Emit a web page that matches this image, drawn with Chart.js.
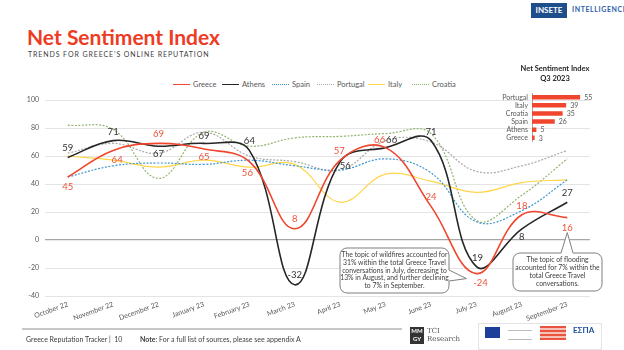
<!DOCTYPE html>
<html>
<head>
<meta charset="utf-8">
<script src="https://cdn.jsdelivr.net/npm/chart.js@4.4.0/dist/chart.umd.min.js"></script>
<style>
    body { margin: 0; width: 624px; height: 350px; position: relative; overflow: hidden; background: #fff; font-family: Lato, "Open Sans", sans-serif; }
    .abs { position: absolute; }
    #title { left: 27px; top: 24px; font-size: 21px; font-weight: 700; color: #ee3b24; }
    #subtitle { left: 28px; top: 50px; font-size: 7px; letter-spacing: 0.9px; color: #404040; }
    .lg { position: absolute; top: 80px; font-size: 7.5px; color: #595959; display: flex; align-items: center; }
    .lg i { display: inline-block; width: 17px; height: 0; margin-right: 3px; }
    #q3title { left: 505px; top: 64px; width: 100px; text-align: center; font-size: 7.5px; font-weight: 700; color: #262626; line-height: 10px; }
    #logo1 { left: 531px; top: 3px; width: 36px; height: 15px; background: #1f4e8c; color: #fff; font-size: 8px; font-weight: 700; line-height: 15px; text-align: center; }
    #logo2 { left: 572px; top: 5px; font-size: 7px; font-weight: 700; color: #2e5ea8; letter-spacing: 0.6px; }
    #footline { left: 22px; top: 328px; width: 380px; height: 2px; background: #c8c8c8; }
    #foot1 { left: 26px; top: 335px; font-size: 7px; color: #404040; }
    #foot2 { left: 140px; top: 335px; font-size: 7px; color: #404040; }
</style>
</head>
<body>
<div id="logo1" class="abs">INSETE</div>
<div id="logo2" class="abs">INTELLIGENCE</div>
<div id="title" class="abs">Net Sentiment Index</div>
<div id="subtitle" class="abs">TRENDS FOR GREECE’S ONLINE REPUTATION</div>
<div id="legend"></div>
<canvas id="lineChart" class="abs" width="624" height="350" style="left:0;top:0"></canvas>
<div id="q3title" class="abs">Net Sentiment Index<br>Q3 2023</div>
<canvas id="barChart" class="abs" width="150" height="65" style="left:470px;top:85px"></canvas>
<div id="footline" class="abs"></div>
<div id="foot1" class="abs">Greece Reputation Tracker |&nbsp; 10</div>
<div id="foot2" class="abs"><b>Note</b>: For a full list of sources, please see appendix A</div>
<!-- partner logos, rough -->
<div class="abs" style="left:410px;top:327px;width:14px;height:17px;background:#333;color:#fff;font-size:6px;font-weight:700;line-height:8px;text-align:center">MM<br>GY</div>
<div class="abs" style="left:427px;top:327px;font-family:'DejaVu Serif',serif;font-size:7px;line-height:8px;color:#555">TCI<br>Research</div>
<div class="abs" style="left:478px;top:323px;width:122px;height:25px;border:1px solid #e4e4e4"></div>
<div class="abs" style="left:485px;top:327px;width:15px;height:11px;background:#1e3f99"></div>
<div class="abs" style="left:508px;top:330px;width:24px;height:8px;border-top:1px solid #bbb;border-bottom:1px solid #bbb"></div>
<div class="abs" style="left:540px;top:326px;width:26px;height:14px;background:repeating-linear-gradient(#e8543f 0 2px,#f5c0b5 2px 4px)"></div>
<div class="abs" style="left:573px;top:325px;font-size:8px;font-weight:700;color:#1e4e9c">ΕΣΠΑ</div>

<script>
// ---- data ----
const months = ['October 22', 'November 22', 'December 22', 'January 23', 'February 23', 'March 23',
    'April 23', 'May 23', 'June 23', 'July 23', 'August 23', 'September 23'];
const greece   = [45, 64, 69, 65, 56, 8, 57, 66, 24, -24, 18, 16];
const athens   = [59, 71, 67, 69, 64, -32, 56, 66, 71, -19, 8, 27];
const athensTags = ['59', '71', '67', '69', '64', '-32', '56', '66', '71', '19', '8', '27'];
const spain    = [45, 53, 55, 54, 57, 53, 50, 58, 48, 13, 21, 43];
const portugal = [62, 69, 62, 77, 60, 56, 50, 71, 70, 49, 53, 64];
const italy    = [60, 57, 52, 57, 52, 54, 27, 47, 42, 34, 41, 43];
const croatia  = [82, 79, 44, 77, 67, 73, 74, 76, 76, 14, 32, 58];

const q3Labels = ['Portugal', 'Italy', 'Croatia', 'Spain', 'Athens', 'Greece'];
const q3Values = [55, 39, 35, 26, 5, 3];

const yTicks = [-40, -20, 0, 20, 40, 60, 80, 100];

const RED = '#f0462d';
const series = [
    { name: 'Greece',   data: greece,   color: RED,       dash: [],     width: 1.6 },
    { name: 'Athens',   data: athens,   color: '#262626', dash: [],     width: 1.6 },
    { name: 'Spain',    data: spain,    color: '#3f97cf', dash: [2, 1.5], width: 1.2 },
    { name: 'Portugal', data: portugal, color: '#a9a9a9', dash: [2, 1.5], width: 1.2 },
    { name: 'Italy',    data: italy,    color: '#ffd54a', dash: [],     width: 1.2 },
    { name: 'Croatia',  data: croatia,  color: '#92b46f', dash: [2, 1.5], width: 1.2 },
];

// legend (html)
const legendLeft = [173, 222, 272, 317, 368, 412];
document.getElementById('legend').innerHTML = series.map((s, i) => {
    const style = s.dash.length ? 'dotted' : 'solid';
    return `<div class="lg" style="left:${legendLeft[i]}px"><i style="border-top:1.5px ${style} ${s.color}"></i>${s.name}</div>`;
}).join('');

// label offsets relative to each point (dx, dy)
const greeceOffsets = [[0, 10], [4, 10], [0, -9], [0, 8], [-2, 11], [0, -10], [-1, -9], [-6, -8], [0, -9], [4, 9], [0, -9], [0, 10]];
const athensOffsets = [[0, -9], [0, -9], [0, 8], [0, -7], [0, -9], [0, -10], [5, 4], [6, -8], [0, -9], [1, -9], [0, 8], [0, -9]];

const pointLabels = {
    id: 'pointLabels',
    afterDatasetsDraw(chart) {
        const ctx = chart.ctx;
        ctx.save();
        ctx.font = '9.5px Lato';
        ctx.textAlign = 'center';
        ctx.textBaseline = 'middle';
        const sets = [
            { idx: 0, tags: greece.map(String), off: greeceOffsets, color: '#f0533a' },
            { idx: 1, tags: athensTags, off: athensOffsets, color: '#333' },
        ];
        sets.forEach(s => {
            chart.getDatasetMeta(s.idx).data.forEach((pt, i) => {
                ctx.fillStyle = s.color;
                ctx.fillText(s.tags[i], pt.x + s.off[i][0], pt.y + s.off[i][1]);
            });
        });
        ctx.restore();
    }
};

function callout(ctx, box, tip, base, lines) {
    const { x, y, w, h } = box, r = 7;
    ctx.beginPath();
    ctx.moveTo(x + r, y);
    if (base.side === 'top') {
        ctx.lineTo(base.a, y); ctx.lineTo(tip.x, tip.y); ctx.lineTo(base.b, y);
    }
    ctx.lineTo(x + w - r, y);
    ctx.arcTo(x + w, y, x + w, y + r, r);
    if (base.side === 'right') {
        ctx.lineTo(x + w, base.a); ctx.lineTo(tip.x, tip.y); ctx.lineTo(x + w, base.b);
    }
    ctx.lineTo(x + w, y + h - r);
    ctx.arcTo(x + w, y + h, x + w - r, y + h, r);
    ctx.lineTo(x + r, y + h);
    ctx.arcTo(x, y + h, x, y + h - r, r);
    ctx.lineTo(x, y + r);
    ctx.arcTo(x, y, x + r, y, r);
    ctx.closePath();
    ctx.fillStyle = '#fff';
    ctx.fill();
    ctx.strokeStyle = '#7f7f7f';
    ctx.lineWidth = 1;
    ctx.stroke();
    ctx.fillStyle = '#404040';
    ctx.font = '6.8px Lato';
    ctx.textAlign = 'center';
    ctx.textBaseline = 'middle';
    const lh = 7.8;
    const y0 = y + h / 2 - (lines.length - 1) * lh / 2;
    lines.forEach((t, i) => ctx.fillText(t, x + w / 2, y0 + i * lh));
}

const callouts = {
    id: 'callouts',
    afterDraw(chart) {
        const ctx = chart.ctx;
        const g = chart.getDatasetMeta(0).data;
        ctx.save();
        const jul = g[9];
        callout(ctx, { x: 340, y: 248, w: 109, h: 45 }, { x: jul.x - 10, y: jul.y + 5 }, { side: 'right', a: 270, b: 281 },
            ['The topic of wildfires accounted for', '31% within the total Greece Travel',
             'conversations in July, decreasing to', '13% in August, and further declining', 'to 7% in September.']);
        const sep = g[11];
        callout(ctx, { x: 513, y: 253, w: 89, h: 38 }, { x: sep.x, y: sep.y + 15 }, { side: 'top', a: 561, b: 573 },
            ['The topic of flooding', 'accounted for 7% within the', 'total Greece Travel', 'conversations.']);
        ctx.restore();
    }
};

new Chart(document.getElementById('lineChart'), {
    type: 'line',
    data: {
        labels: months,
        datasets: series.map(s => ({
            label: s.name,
            data: s.data,
            borderColor: s.color,
            borderDash: s.dash,
            borderWidth: s.width,
            pointRadius: 0,
            tension: 0.4,
            fill: false,
        }))
    },
    options: {
        responsive: false,
        animation: false,
        devicePixelRatio: 1,
        layout: { padding: { left: 0, right: 34, top: 100, bottom: 0 } },
        plugins: { legend: { display: false }, tooltip: { enabled: false } },
        scales: {
            x: {
                offset: true,
                grid: { display: false, drawTicks: false },
                border: { display: false },
                ticks: { minRotation: 20, maxRotation: 20, padding: 4, color: '#595959', font: { family: 'Lato', size: 7 } },
                afterFit: s => { s.height = 54; }
            },
            y: {
                min: -40, max: 100,
                afterBuildTicks: s => { s.ticks = yTicks.map(v => ({ value: v })); },
                grid: {
                    drawTicks: false,
                    color: c => c.tick.value === 0 ? '#a6a6a6' : '#e4e4e4',
                    lineWidth: c => c.tick.value === 0 ? 1.3 : 1,
                },
                border: { display: false },
                ticks: { padding: 6, color: '#595959', font: { family: 'Lato', size: 7 } },
                afterFit: s => { s.width = 45; }
            }
        }
    },
    plugins: [pointLabels, callouts]
});

const barValues = {
    id: 'barValues',
    afterDatasetsDraw(chart) {
        const ctx = chart.ctx;
        ctx.save();
        ctx.font = '7px Lato';
        ctx.fillStyle = '#595959';
        ctx.textBaseline = 'middle';
        chart.getDatasetMeta(0).data.forEach((bar, i) => {
            ctx.fillText(q3Values[i], bar.x + 4, bar.y + 0.5);
        });
        ctx.restore();
    }
};

new Chart(document.getElementById('barChart'), {
    type: 'bar',
    data: {
        labels: q3Labels,
        datasets: [{ data: q3Values, backgroundColor: RED, barPercentage: 0.55, categoryPercentage: 1 }]
    },
    options: {
        indexAxis: 'y',
        responsive: false,
        animation: false,
        devicePixelRatio: 1,
        layout: { padding: { top: 5, bottom: 3, right: 18, left: 0 } },
        plugins: { legend: { display: false }, tooltip: { enabled: false } },
        scales: {
            x: { display: false, min: 0, max: 80 },
            y: {
                grid: { display: false, drawTicks: false },
                border: { color: '#a6a6a6' },
                ticks: { autoSkip: false, padding: 4, color: '#595959', font: { family: 'Lato', size: 7 } },
                afterFit: s => { s.width = 62; }
            }
        }
    },
    plugins: [barValues]
});
</script>
</body>
</html>
